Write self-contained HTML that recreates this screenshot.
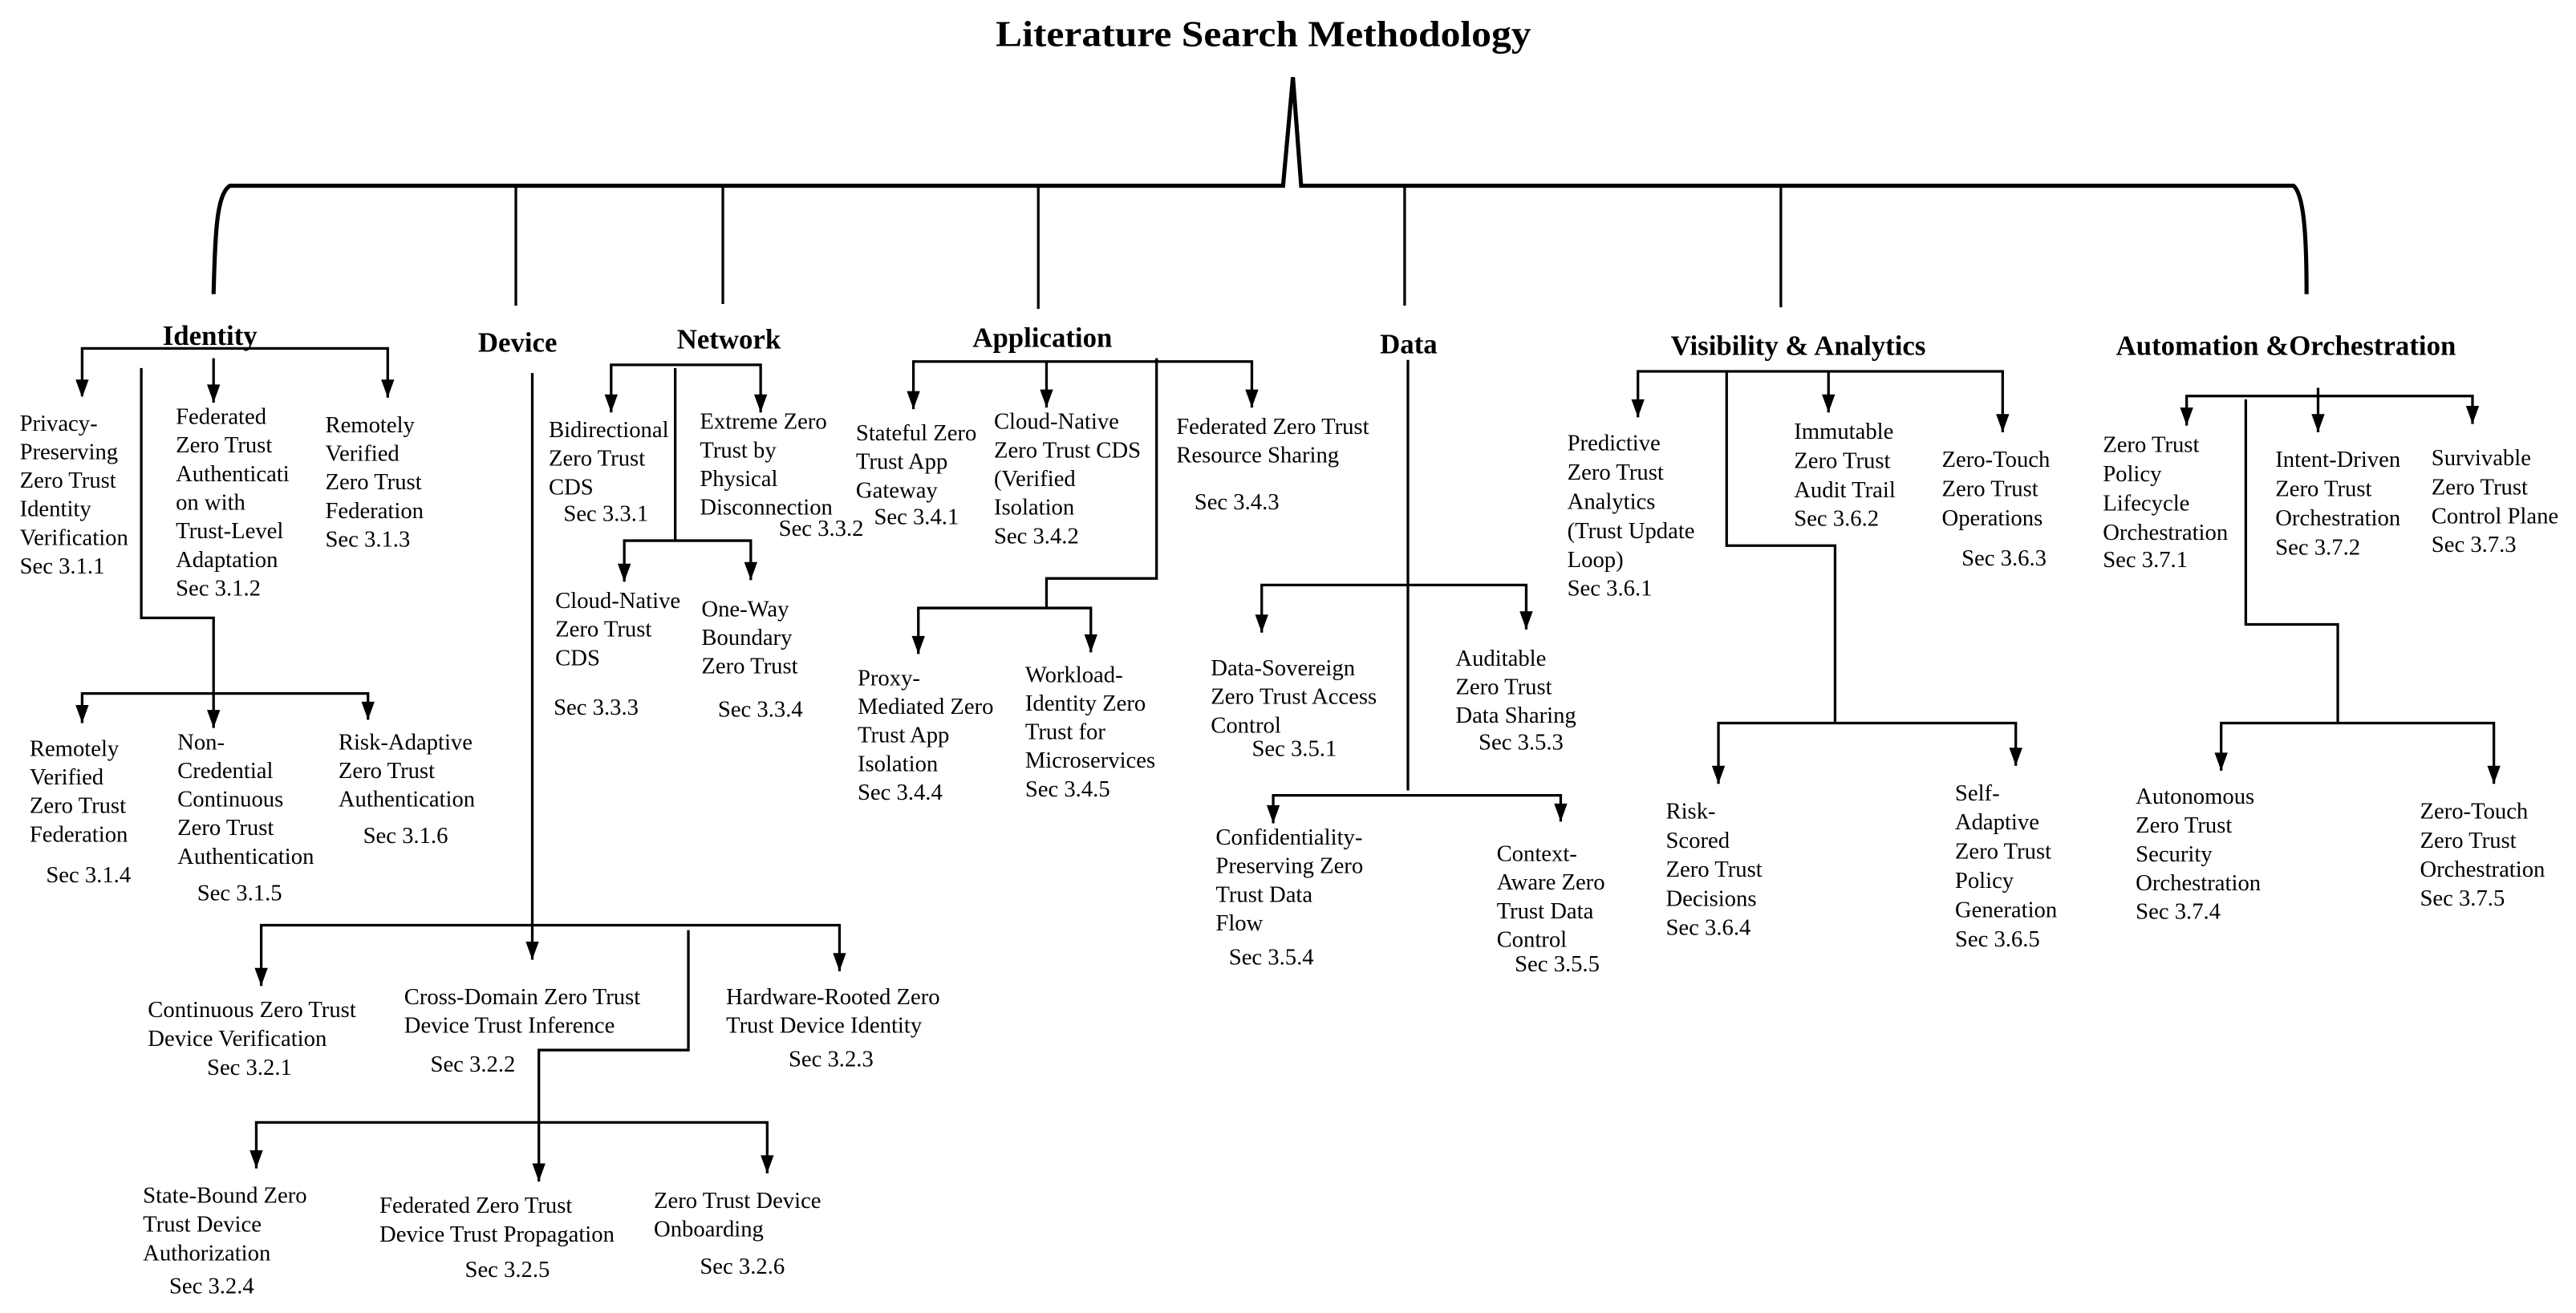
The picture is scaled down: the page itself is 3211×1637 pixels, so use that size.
<!DOCTYPE html>
<html><head><meta charset="utf-8"><style>
html,body{margin:0;padding:0;background:#fff;}
svg{display:block;}
text{font-family:"Liberation Serif",serif;font-size:14px;fill:#000;}
.h{font-weight:bold;font-size:17px;}
.t{font-weight:bold;font-size:22px;}
</style></head><body>
<svg width="3211" height="1637" viewBox="0 0 1568 799" preserveAspectRatio="none" xmlns="http://www.w3.org/2000/svg">
<rect width="1568" height="799" fill="#fff"/>
<text class="t" x="606" y="28" textLength="326" lengthAdjust="spacingAndGlyphs">Literature Search Methodology</text>
<path d="M130,179 C131,140 132,118 140,113 L781,113 L787,47 L792,113 L1396,113 C1402,118 1404,140 1404,179" fill="none" stroke="#000" stroke-width="2.5"/>
<g stroke="#000" stroke-width="1.6">
<line x1="314" y1="113" x2="314" y2="186"/>
<line x1="440" y1="113" x2="440" y2="185"/>
<line x1="632" y1="113" x2="632" y2="188"/>
<line x1="855" y1="113" x2="855" y2="186"/>
<line x1="1084" y1="113" x2="1084" y2="187"/>
</g>
<g fill="none" stroke="#000" stroke-width="1.6">
<!-- Identity -->
<polyline points="50,241 50,212 236,212 236,242"/>
<line x1="130" y1="218" x2="130" y2="245"/>
<polyline points="86,224 86,376 130,376 130,443"/>
<polyline points="50,440 50,422 224,422 224,438"/>
<!-- Device -->
<line x1="324" y1="227" x2="324" y2="584"/>
<polyline points="159,600 159,563 511,563 511,591"/>
<polyline points="419,566 419,639 328,639 328,719"/>
<polyline points="156,711 156,683 467,683 467,714"/>
<!-- Network -->
<polyline points="372,251 372,222 463,222 463,251"/>
<line x1="411" y1="224" x2="411" y2="329"/>
<polyline points="380,354 380,329 457,329 457,353"/>
<!-- Application -->
<polyline points="556,249 556,220 762,220 762,248"/>
<line x1="637" y1="220" x2="637" y2="248"/>
<polyline points="704,218 704,352 637,352 637,370"/>
<polyline points="559,398 559,370 664,370 664,397"/>
<!-- Data -->
<line x1="857" y1="219" x2="857" y2="481"/>
<polyline points="768,385 768,356 929,356 929,383"/>
<polyline points="775,501 775,484 950,484 950,500"/>
<!-- Visibility -->
<polyline points="997,254 997,226 1219,226 1219,263"/>
<line x1="1113" y1="226" x2="1113" y2="251"/>
<polyline points="1051,226 1051,332 1117,332 1117,440"/>
<polyline points="1046,477 1046,440 1227,440 1227,466"/>
<!-- Automation -->
<polyline points="1331,259 1331,241 1505,241 1505,258"/>
<line x1="1411" y1="236" x2="1411" y2="263"/>
<polyline points="1367,243 1367,380 1423,380 1423,440"/>
<polyline points="1352,469 1352,440 1518,440 1518,477"/>
</g>
<g fill="#000">
<polygon points="46,231 54,231 50,242"/><polygon points="126,234 134,234 130,245"/><polygon points="232,231 240,231 236,242"/>
<polygon points="126,432 134,432 130,443"/><polygon points="46,429 54,429 50,440"/><polygon points="220,427 228,427 224,438"/>
<polygon points="320,573 328,573 324,584"/><polygon points="155,589 163,589 159,600"/><polygon points="507,580 515,580 511,591"/>
<polygon points="324,708 332,708 328,719"/><polygon points="152,700 160,700 156,711"/><polygon points="463,703 471,703 467,714"/>
<polygon points="368,240 376,240 372,251"/><polygon points="459,240 467,240 463,251"/>
<polygon points="376,343 384,343 380,354"/><polygon points="453,342 461,342 457,353"/>
<polygon points="552,238 560,238 556,249"/><polygon points="633,237 641,237 637,248"/><polygon points="758,237 766,237 762,248"/>
<polygon points="555,387 563,387 559,398"/><polygon points="660,386 668,386 664,397"/>
<polygon points="764,374 772,374 768,385"/><polygon points="925,372 933,372 929,383"/>
<polygon points="771,490 779,490 775,501"/><polygon points="946,489 954,489 950,500"/>
<polygon points="993,243 1001,243 997,254"/><polygon points="1109,240 1117,240 1113,251"/><polygon points="1215,252 1223,252 1219,263"/>
<polygon points="1042,466 1050,466 1046,477"/><polygon points="1223,455 1231,455 1227,466"/>
<polygon points="1327,248 1335,248 1331,259"/><polygon points="1407,252 1415,252 1411,263"/><polygon points="1501,247 1509,247 1505,258"/>
<polygon points="1348,458 1356,458 1352,469"/><polygon points="1514,466 1522,466 1518,477"/>
</g>
<!-- Headings -->
<text class="h" x="99" y="210">Identity</text>
<text class="h" x="291" y="214">Device</text>
<text class="h" x="412" y="212">Network</text>
<text class="h" x="592" y="211">Application</text>
<text class="h" x="840" y="215">Data</text>
<text class="h" x="1017" y="216">Visibility &amp; Analytics</text>
<text class="h" x="1288" y="216">Automation &amp;Orchestration</text>
<!-- Identity texts -->
<text x="12" y="262"><tspan x="12">Privacy-</tspan><tspan x="12" dy="17.4">Preserving</tspan><tspan x="12" dy="17.4">Zero Trust</tspan><tspan x="12" dy="17.4">Identity</tspan><tspan x="12" dy="17.4">Verification</tspan><tspan x="12" dy="17.4">Sec 3.1.1</tspan></text>
<text y="258"><tspan x="107">Federated</tspan><tspan x="107" dy="17.4">Zero Trust</tspan><tspan x="107" dy="17.4">Authenticati</tspan><tspan x="107" dy="17.4">on with</tspan><tspan x="107" dy="17.4">Trust-Level</tspan><tspan x="107" dy="17.4">Adaptation</tspan><tspan x="107" dy="17.4">Sec 3.1.2</tspan></text>
<text y="263"><tspan x="198">Remotely</tspan><tspan x="198" dy="17.4">Verified</tspan><tspan x="198" dy="17.4">Zero Trust</tspan><tspan x="198" dy="17.4">Federation</tspan><tspan x="198" dy="17.4">Sec 3.1.3</tspan></text>
<text y="460"><tspan x="18">Remotely</tspan><tspan x="18" dy="17.4">Verified</tspan><tspan x="18" dy="17.4">Zero Trust</tspan><tspan x="18" dy="17.4">Federation</tspan></text>
<text x="28" y="537">Sec 3.1.4</text>
<text y="456"><tspan x="108">Non-</tspan><tspan x="108" dy="17.4">Credential</tspan><tspan x="108" dy="17.4">Continuous</tspan><tspan x="108" dy="17.4">Zero Trust</tspan><tspan x="108" dy="17.4">Authentication</tspan></text>
<text x="120" y="548">Sec 3.1.5</text>
<text y="456"><tspan x="206">Risk-Adaptive</tspan><tspan x="206" dy="17.4">Zero Trust</tspan><tspan x="206" dy="17.4">Authentication</tspan></text>
<text x="221" y="513">Sec 3.1.6</text>
<!-- Device texts -->
<text y="619"><tspan x="90">Continuous Zero Trust</tspan><tspan x="90" dy="17.5">Device Verification</tspan></text>
<text x="126" y="654">Sec 3.2.1</text>
<text y="611"><tspan x="246">Cross-Domain Zero Trust</tspan><tspan x="246" dy="17.5">Device Trust Inference</tspan></text>
<text x="262" y="652">Sec 3.2.2</text>
<text y="611"><tspan x="442">Hardware-Rooted Zero</tspan><tspan x="442" dy="17.5">Trust Device Identity</tspan></text>
<text x="480" y="649">Sec 3.2.3</text>
<text y="732"><tspan x="87">State-Bound Zero</tspan><tspan x="87" dy="17.5">Trust Device</tspan><tspan x="87" dy="17.5">Authorization</tspan></text>
<text x="103" y="787">Sec 3.2.4</text>
<text y="738"><tspan x="231">Federated Zero Trust</tspan><tspan x="231" dy="17.5">Device Trust Propagation</tspan></text>
<text x="283" y="777">Sec 3.2.5</text>
<text y="735"><tspan x="398">Zero Trust Device</tspan><tspan x="398" dy="17.5">Onboarding</tspan></text>
<text x="426" y="775">Sec 3.2.6</text>
<!-- Network texts -->
<text y="266"><tspan x="334">Bidirectional</tspan><tspan x="334" dy="17.4">Zero Trust</tspan><tspan x="334" dy="17.4">CDS</tspan></text>
<text x="343" y="317">Sec 3.3.1</text>
<text y="261"><tspan x="426">Extreme Zero</tspan><tspan x="426" dy="17.4">Trust by</tspan><tspan x="426" dy="17.4">Physical</tspan><tspan x="426" dy="17.4">Disconnection</tspan></text>
<text x="474" y="326">Sec 3.3.2</text>
<text y="370"><tspan x="338">Cloud-Native</tspan><tspan x="338" dy="17.4">Zero Trust</tspan><tspan x="338" dy="17.4">CDS</tspan></text>
<text x="337" y="435">Sec 3.3.3</text>
<text y="375"><tspan x="427">One-Way</tspan><tspan x="427" dy="17.4">Boundary</tspan><tspan x="427" dy="17.4">Zero Trust</tspan></text>
<text x="437" y="436">Sec 3.3.4</text>
<!-- Application texts -->
<text y="268"><tspan x="521">Stateful Zero</tspan><tspan x="521" dy="17.4">Trust App</tspan><tspan x="521" dy="17.4">Gateway</tspan></text>
<text x="532" y="319">Sec 3.4.1</text>
<text y="261"><tspan x="605">Cloud-Native</tspan><tspan x="605" dy="17.4">Zero Trust CDS</tspan><tspan x="605" dy="17.4">(Verified</tspan><tspan x="605" dy="17.4">Isolation</tspan><tspan x="605" dy="17.4">Sec 3.4.2</tspan></text>
<text y="264"><tspan x="716">Federated Zero Trust</tspan><tspan x="716" dy="17.4">Resource Sharing</tspan></text>
<text x="727" y="310">Sec 3.4.3</text>
<text y="417"><tspan x="522">Proxy-</tspan><tspan x="522" dy="17.4">Mediated Zero</tspan><tspan x="522" dy="17.4">Trust App</tspan><tspan x="522" dy="17.4">Isolation</tspan><tspan x="522" dy="17.4">Sec 3.4.4</tspan></text>
<text y="415"><tspan x="624">Workload-</tspan><tspan x="624" dy="17.4">Identity Zero</tspan><tspan x="624" dy="17.4">Trust for</tspan><tspan x="624" dy="17.4">Microservices</tspan><tspan x="624" dy="17.4">Sec 3.4.5</tspan></text>
<!-- Data texts -->
<text y="411"><tspan x="737">Data-Sovereign</tspan><tspan x="737" dy="17.4">Zero Trust Access</tspan><tspan x="737" dy="17.4">Control</tspan></text>
<text x="762" y="460">Sec 3.5.1</text>
<text y="405"><tspan x="886">Auditable</tspan><tspan x="886" dy="17.4">Zero Trust</tspan><tspan x="886" dy="17.4">Data Sharing</tspan></text>
<text x="900" y="456">Sec 3.5.3</text>
<text y="514"><tspan x="740">Confidentiality-</tspan><tspan x="740" dy="17.4">Preserving Zero</tspan><tspan x="740" dy="17.4">Trust Data</tspan><tspan x="740" dy="17.4">Flow</tspan></text>
<text x="748" y="587">Sec 3.5.4</text>
<text y="524"><tspan x="911">Context-</tspan><tspan x="911" dy="17.4">Aware Zero</tspan><tspan x="911" dy="17.4">Trust Data</tspan><tspan x="911" dy="17.4">Control</tspan></text>
<text x="922" y="591">Sec 3.5.5</text>
<!-- Visibility texts -->
<text y="274"><tspan x="954">Predictive</tspan><tspan x="954" dy="17.8">Zero Trust</tspan><tspan x="954" dy="17.8">Analytics</tspan><tspan x="954" dy="17.8">(Trust Update</tspan><tspan x="954" dy="17.8">Loop)</tspan><tspan x="954" dy="17.2">Sec 3.6.1</tspan></text>
<text y="267"><tspan x="1092">Immutable</tspan><tspan x="1092" dy="17.8">Zero Trust</tspan><tspan x="1092" dy="17.8">Audit Trail</tspan><tspan x="1092" dy="17.4">Sec 3.6.2</tspan></text>
<text y="284"><tspan x="1182">Zero-Touch</tspan><tspan x="1182" dy="17.8">Zero Trust</tspan><tspan x="1182" dy="17.8">Operations</tspan></text>
<text x="1194" y="344">Sec 3.6.3</text>
<text y="498"><tspan x="1014">Risk-</tspan><tspan x="1014" dy="17.8">Scored</tspan><tspan x="1014" dy="17.8">Zero Trust</tspan><tspan x="1014" dy="17.8">Decisions</tspan><tspan x="1014" dy="17.4">Sec 3.6.4</tspan></text>
<text y="487"><tspan x="1190">Self-</tspan><tspan x="1190" dy="17.8">Adaptive</tspan><tspan x="1190" dy="17.8">Zero Trust</tspan><tspan x="1190" dy="17.8">Policy</tspan><tspan x="1190" dy="17.8">Generation</tspan><tspan x="1190" dy="17.8">Sec 3.6.5</tspan></text>
<!-- Automation texts -->
<text y="275"><tspan x="1280">Zero Trust</tspan><tspan x="1280" dy="17.8">Policy</tspan><tspan x="1280" dy="17.8">Lifecycle</tspan><tspan x="1280" dy="17.8">Orchestration</tspan><tspan x="1280" dy="16.8">Sec 3.7.1</tspan></text>
<text y="284"><tspan x="1385">Intent-Driven</tspan><tspan x="1385" dy="17.8">Zero Trust</tspan><tspan x="1385" dy="17.8">Orchestration</tspan><tspan x="1385" dy="17.8">Sec 3.7.2</tspan></text>
<text y="283"><tspan x="1480">Survivable</tspan><tspan x="1480" dy="17.8">Zero Trust</tspan><tspan x="1480" dy="17.8">Control Plane</tspan><tspan x="1480" dy="17.3">Sec 3.7.3</tspan></text>
<text y="489"><tspan x="1300">Autonomous</tspan><tspan x="1300" dy="17.6">Zero Trust</tspan><tspan x="1300" dy="17.6">Security</tspan><tspan x="1300" dy="17.6">Orchestration</tspan><tspan x="1300" dy="17.4">Sec 3.7.4</tspan></text>
<text y="498"><tspan x="1473">Zero-Touch</tspan><tspan x="1473" dy="17.8">Zero Trust</tspan><tspan x="1473" dy="17.8">Orchestration</tspan><tspan x="1473" dy="17.4">Sec 3.7.5</tspan></text>
</svg>
</body></html>
